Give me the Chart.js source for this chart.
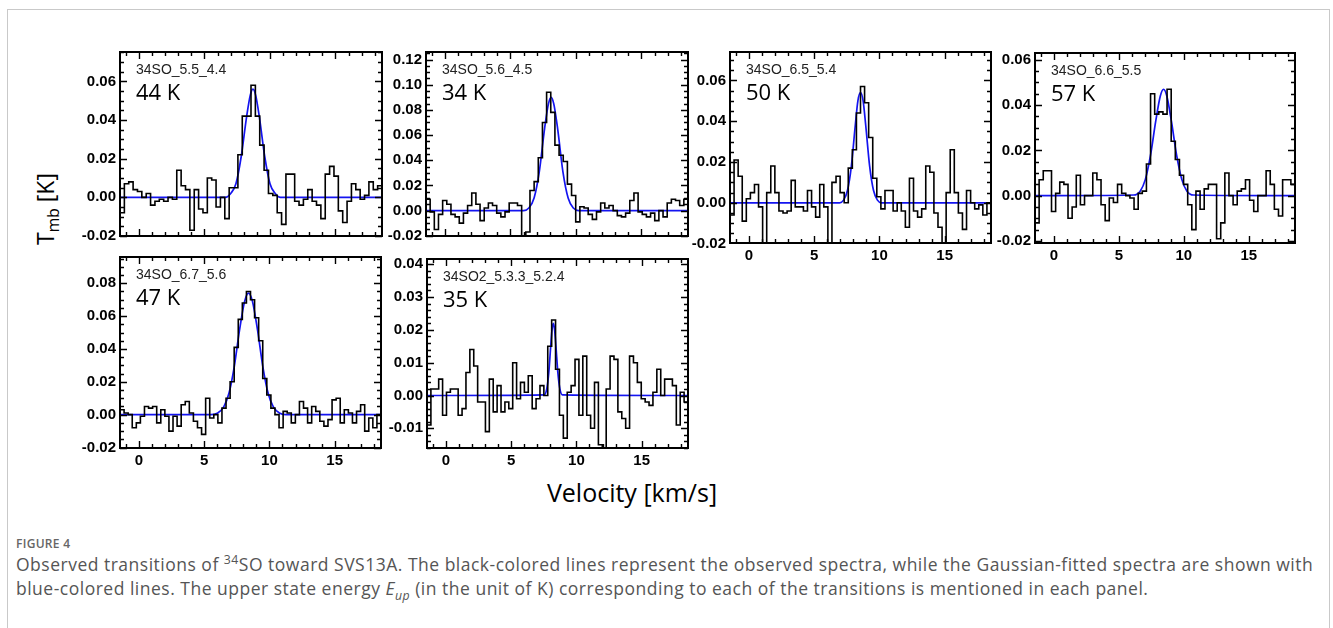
<!DOCTYPE html>
<html>
<head>
<meta charset="utf-8">
<title>34SO transitions toward SVS13A</title>
<script src="https://cdn.jsdelivr.net/npm/chart.js@4.4.1/dist/chart.umd.min.js"></script>
<style>
  html, body { margin: 0; padding: 0; background: #fff; }
  #fig { position: relative; width: 1333px; height: 628px; overflow: hidden; }
  #frame { position: absolute; left: 7px; top: 9px; width: 1321px; height: 660px; border: 1px solid #c9c9c9; }
  canvas { position: absolute; }
  #ylab { position: absolute; left: 45px; top: 209px; transform: translate(-50%, -50%) rotate(-90deg);
          font: 23px "Open Sans"; color: #000; white-space: nowrap; }
  #ylab sub { font-size: 0.68em; vertical-align: -0.3em; line-height: 0; }
  #xlab { position: absolute; left: 632px; top: 492px; transform: translate(-50%, -50%);
          font: 25px "Open Sans"; color: #000; white-space: nowrap; }
  #figlabel { position: absolute; left: 16px; top: 535px; font: 600 12px "Open Sans"; color: #666; letter-spacing: 0.3px; }
  #caption { position: absolute; left: 16px; top: 552px; font: 17.5px "Open Sans"; color: #555; line-height: 24px;
             letter-spacing: 0.5px; white-space: nowrap; }
  #caption sup, #caption sub { font-size: 0.7em; line-height: 0; }
</style>
</head>
<body>
<div id="fig">
  <div id="frame"></div>
  <div id="ylab">T<sub>mb</sub> [K]</div>
  <div id="xlab">Velocity [km/s]</div>
  <div id="figlabel">FIGURE 4</div>
  <div id="caption">Observed transitions of <sup>34</sup>SO toward SVS13A. The black-colored lines represent the observed spectra, while the Gaussian-fitted spectra are shown with<br>blue-colored lines. The upper state energy <i>E<sub>up</sub></i> (in the unit of K) corresponding to each of the transitions is mentioned in each panel.</div>
</div>
<script>
// velocity axis shared by all panels (km/s)
const velMin = -1.45;
const velMax = 18.55;
const xTickValues = [0, 5, 10, 15];

const names = ["34SO_5.5_4.4", "34SO_5.6_4.5", "34SO_6.5_5.4", "34SO_6.6_5.5", "34SO_6.7_5.6", "34SO2_5.3.3_5.2.4"];
const eup = ["44 K", "34 K", "50 K", "57 K", "47 K", "35 K"];

const yTicks1 = [-0.02, 0, 0.02, 0.04, 0.06];
const yTicks2 = [-0.02, 0, 0.02, 0.04, 0.06, 0.08, 0.10, 0.12];
const yTicks3 = [-0.02, 0, 0.02, 0.04, 0.06];
const yTicks4 = [-0.02, 0, 0.02, 0.04, 0.06];
const yTicks5 = [-0.02, 0, 0.02, 0.04, 0.06, 0.08];
const yTicks6 = [-0.01, 0, 0.01, 0.02, 0.03, 0.04];

// observed spectra, Tmb [K] per channel (evenly spaced from velMin to velMax)
const spec1 = [-0.008, 0.007, 0.008, 0.004, 0.003, 0.000, 0.002, -0.004, -0.002, -0.001,
  -0.002, 0.000, -0.001, 0.014, 0.006, 0.004, -0.017, 0.004, -0.006, -0.008,
  0.010, 0.009, -0.005, 0.000, -0.011, 0.005, 0.005, 0.022, 0.042, 0.042,
  0.058, 0.042, 0.027, 0.014, 0.002, 0.001, -0.008, -0.014, 0.012, 0.012,
  -0.002, -0.004, -0.001, 0.004, -0.002, -0.004, -0.011, 0.012, 0.016, 0.011,
  -0.007, -0.013, -0.002, 0.007, 0.004, -0.001, 0.001, 0.008, 0.004, 0.006];
const spec2 = [0.009, -0.001, -0.015, -0.003, 0.008, 0.005, -0.003, -0.005, -0.010, -0.002,
  0.004, 0.014, 0.005, -0.008, 0.002, 0.006, 0.004, -0.002, -0.005, -0.001,
  0.006, 0.006, 0.004, -0.022, -0.017, 0.016, 0.023, 0.042, 0.070, 0.094,
  0.078, 0.052, 0.044, 0.039, 0.021, 0.012, -0.009, 0.003, 0.002, -0.003,
  -0.007, -0.001, 0.006, 0.002, 0.004, 0.000, -0.004, -0.005, -0.002, 0.008,
  0.014, -0.001, -0.003, -0.005, -0.002, -0.008, 0.000, -0.005, 0.006, 0.009,
  0.008, 0.004, 0.009];
const spec3 = [-0.006, 0.021, 0.013, -0.009, 0.002, 0.005, 0.009, -0.002, -0.022, 0.005,
  0.018, 0.005, -0.004, -0.005, -0.004, 0.011, -0.002, -0.002, -0.004, 0.006,
  -0.002, -0.007, 0.009, -0.002, -0.022, 0.010, 0.013, 0.005, 0.000, 0.017,
  0.026, 0.044, 0.057, 0.049, 0.032, 0.012, 0.003, -0.003, 0.006, 0.006,
  -0.004, 0.000, -0.004, -0.012, 0.012, -0.004, -0.007, -0.003, 0.018, 0.015,
  -0.005, -0.012, -0.022, 0.005, 0.026, 0.005, -0.005, -0.013, 0.006, 0.000,
  -0.003, -0.001, -0.006, 0.000];
const spec4 = [-0.012, 0.007, 0.011, 0.011, -0.007, 0.001, 0.006, 0.005, -0.010, -0.005,
  0.009, -0.004, 0.000, 0.000, 0.010, 0.007, -0.004, -0.011, -0.001, -0.003,
  0.005, 0.001, 0.000, -0.001, -0.006, 0.001, 0.002, 0.014, 0.045, 0.036,
  0.037, 0.036, 0.047, 0.024, 0.016, 0.009, 0.005, -0.004, -0.015, 0.002,
  -0.006, 0.003, 0.005, 0.005, -0.019, -0.012, 0.010, 0.000, -0.004, 0.002,
  0.003, 0.007, -0.002, -0.007, 0.000, 0.000, 0.011, 0.005, -0.006, -0.009,
  0.007, 0.007, 0.005];
const spec5 = [0.003, 0.001, 0.000, -0.008, -0.005, -0.001, 0.005, 0.004, 0.005, -0.005,
  0.003, -0.001, -0.010, -0.001, -0.007, 0.006, 0.008, 0.001, -0.004, -0.008,
  -0.012, 0.010, -0.002, 0.000, -0.005, 0.004, 0.010, 0.020, 0.041, 0.058,
  0.068, 0.075, 0.070, 0.059, 0.045, 0.022, 0.012, 0.004, 0.000, -0.008,
  0.002, 0.001, -0.005, 0.000, 0.008, 0.004, -0.005, 0.005, 0.002, -0.004,
  -0.007, -0.003, 0.009, 0.010, -0.005, 0.003, 0.001, -0.005, 0.002, 0.006,
  -0.010, -0.002, -0.008, 0.000];
const spec6 = [-0.009, 0.002, 0.002, 0.005, -0.006, 0.001, 0.002, 0.002, -0.006, -0.004,
  0.007, 0.014, 0.009, -0.002, -0.002, -0.011, 0.005, -0.005, 0.003, -0.005,
  -0.002, -0.004, 0.010, -0.001, 0.004, 0.001, 0.006, -0.004, -0.001, 0.003,
  0.000, 0.015, 0.023, 0.008, -0.006, -0.013, 0.001, 0.003, 0.011, -0.006,
  0.012, -0.006, -0.010, 0.004, -0.015, -0.016, 0.002, 0.012, 0.011, -0.005,
  -0.007, -0.010, 0.012, 0.010, 0.004, -0.001, -0.002, -0.003, 0.001, 0.008,
  0.000, 0.005, 0.005, 0.003, -0.009, 0.001, -0.002];

// Gaussian fits
const fitV1 = [-1.45, 6.6, 7.0, 7.4, 7.8, 8.2, 8.5, 8.7, 8.9, 9.2, 9.6, 10.0, 10.4, 10.8, 18.55];
const fitT1 = [0, 0, 0.002, 0.007, 0.021, 0.041, 0.053, 0.056, 0.053, 0.041, 0.021, 0.007, 0.002, 0, 0];
const fitV2 = [-1.45, 6.0, 6.4, 6.8, 7.2, 7.6, 7.9, 8.1, 8.3, 8.6, 9.0, 9.4, 9.8, 10.2, 18.55];
const fitT2 = [0, 0, 0.002, 0.010, 0.031, 0.065, 0.085, 0.090, 0.085, 0.065, 0.031, 0.010, 0.002, 0, 0];
const fitV3 = [-1.45, 6.95, 7.25, 7.55, 7.85, 8.15, 8.35, 8.55, 8.75, 8.95, 9.25, 9.55, 9.85, 10.15, 18.55];
const fitT3 = [0, 0, 0.0013, 0.006, 0.018, 0.038, 0.050, 0.054, 0.050, 0.038, 0.018, 0.006, 0.0013, 0, 0];
const fitV4 = [-1.45, 6.14, 6.64, 7.04, 7.44, 7.84, 8.19, 8.44, 8.69, 9.04, 9.44, 9.84, 10.24, 10.74, 18.55];
const fitT4 = [0, 0.0003, 0.002, 0.0072, 0.018, 0.033, 0.044, 0.047, 0.044, 0.033, 0.018, 0.0072, 0.002, 0.0003, 0];
const fitV5 = [-1.45, 5.5, 6.0, 6.5, 6.9, 7.3, 7.7, 8.1, 8.4, 8.7, 9.1, 9.5, 9.9, 10.3, 10.8, 11.3, 18.55];
const fitT5 = [0, 0, 0.0009, 0.0047, 0.013, 0.029, 0.051, 0.069, 0.074, 0.069, 0.051, 0.029, 0.013, 0.0047, 0.0009, 0, 0];
const fitV6 = [-1.45, 7.53, 7.73, 7.88, 8.03, 8.13, 8.23, 8.33, 8.43, 8.58, 8.73, 8.93, 18.55];
const fitT6 = [0, 0.0002, 0.0021, 0.0069, 0.015, 0.020, 0.022, 0.020, 0.015, 0.0069, 0.0021, 0.0002, 0];

// panel frames on the page (px) and y ranges
const panels = [
  { left: 120, top: 45, w: 262, h: 198, yMin: -0.0200, yMax: 0.0752, yMinor: 0.005, yTicks: yTicks1, xLabels: false, spec: spec1, fitV: fitV1, fitT: fitT1 },
  { left: 426, top: 45, w: 262, h: 198, yMin: -0.0202, yMax: 0.1260, yMinor: 0.005, yTicks: yTicks2, xLabels: false, spec: spec2, fitV: fitV2, fitT: fitT2 },
  { left: 730, top: 45, w: 261, h: 198, yMin: -0.0197, yMax: 0.0739, yMinor: 0.005, yTicks: yTicks3, xLabels: true, spec: spec3, fitV: fitV3, fitT: fitT3 },
  { left: 1035, top: 46, w: 260, h: 197, yMin: -0.0209, yMax: 0.0630, yMinor: 0.005, yTicks: yTicks4, xLabels: true, spec: spec4, fitV: fitV4, fitT: fitT4 },
  { left: 120, top: 250, w: 261, h: 198, yMin: -0.0203, yMax: 0.0960, yMinor: 0.005, yTicks: yTicks5, xLabels: true, spec: spec5, fitV: fitV5, fitT: fitT5 },
  { left: 427, top: 252, w: 261, h: 196, yMin: -0.0160, yMax: 0.0416, yMinor: 0.002, yTicks: yTicks6, xLabels: true, spec: spec6, fitV: fitV6, fitT: fitT6 },
];

const Y_AXIS_W = 52;
const PAD = 6;
const X_AXIS_H = 30;

Chart.defaults.font.family = "'Liberation Sans', Arial, sans-serif";
Chart.defaults.color = "#000";

// histogram points: left edge of every channel plus the right edge
function steps(vals) {
  const dv = (velMax - velMin) / vals.length;
  const pts = vals.map((t, i) => ({ x: velMin + i * dv, y: t }));
  pts.push({ x: velMax, y: vals[vals.length - 1] });
  return pts;
}

// IDL-style frame: box with inward ticks on all four sides, plus panel labels
const frameTicks = {
  id: "frameTicks",
  afterDatasetsDraw(chart, args, opts) {
    const { ctx, chartArea: a, scales: { x, y } } = chart;
    ctx.save();
    ctx.strokeStyle = "#000";
    ctx.lineWidth = 1.4;
    ctx.beginPath();
    for (let v = Math.ceil(x.min); v <= x.max; v++) {
      const px = Math.round(x.getPixelForValue(v)) + 0.5;
      const len = v % 5 === 0 ? 7 : 4;
      ctx.moveTo(px, a.bottom); ctx.lineTo(px, a.bottom - len);
      ctx.moveTo(px, a.top); ctx.lineTo(px, a.top + len);
    }
    const k0 = Math.ceil(y.min / opts.yMinor - 1e-6);
    for (let k = k0; k * opts.yMinor <= y.max + 1e-9; k++) {
      const v = k * opts.yMinor;
      const py = Math.round(y.getPixelForValue(v)) + 0.5;
      const major = opts.yTicks.some(t => Math.abs(t - v) < 1e-9);
      const len = major ? 7 : 4;
      ctx.moveTo(a.left, py); ctx.lineTo(a.left + len, py);
      ctx.moveTo(a.right, py); ctx.lineTo(a.right - len, py);
    }
    ctx.stroke();
    ctx.lineWidth = 2;
    ctx.strokeRect(a.left, a.top, a.right - a.left, a.bottom - a.top);

    ctx.fillStyle = "#222";
    ctx.textBaseline = "alphabetic";
    ctx.font = "14px 'Liberation Sans'";
    ctx.fillText(opts.name, a.left + 16, a.top + 22);
    ctx.fillStyle = "#000";
    ctx.font = "22px 'Open Sans'";
    ctx.fillText(opts.temp, a.left + 16, a.top + 48);
    ctx.restore();
  }
};

const fig = document.getElementById("fig");

panels.forEach((p, k) => {
  const bottom = p.xLabels ? X_AXIS_H : PAD;
  const canvas = document.createElement("canvas");
  canvas.width = p.w + Y_AXIS_W + PAD;
  canvas.height = p.h + PAD + bottom;
  canvas.style.left = (p.left - Y_AXIS_W) + "px";
  canvas.style.top = (p.top - PAD) + "px";
  fig.appendChild(canvas);

  new Chart(canvas.getContext("2d"), {
    type: "line",
    data: {
      datasets: [{
        label: "observed",
        data: steps(p.spec),
        borderColor: "#000",
        borderWidth: 1.6,
        stepped: true,
        pointRadius: 0,
        fill: false,
      }, {
        label: "Gaussian fit",
        data: p.fitV.map((v, i) => ({ x: v, y: p.fitT[i] })),
        borderColor: "rgb(20, 20, 240)",
        borderWidth: 1.7,
        cubicInterpolationMode: "monotone",
        pointRadius: 0,
        fill: false,
      }]
    },
    options: {
      responsive: false,
      animation: false,
      devicePixelRatio: 1,
      layout: { padding: { top: PAD, right: PAD, left: 0, bottom: 0 } },
      plugins: {
        legend: { display: false },
        tooltip: { enabled: false },
        frameTicks: { name: names[k], temp: eup[k], yMinor: p.yMinor, yTicks: p.yTicks },
      },
      scales: {
        x: {
          type: "linear",
          min: velMin,
          max: velMax,
          grid: { display: false, drawTicks: false },
          border: { display: false },
          ticks: { display: p.xLabels, padding: 4, font: { size: 15, weight: "bold" } },
          afterBuildTicks: s => { s.ticks = xTickValues.map(v => ({ value: v })); },
          afterFit: s => { s.height = bottom; },
        },
        y: {
          type: "linear",
          min: p.yMin,
          max: p.yMax,
          grid: { display: false, drawTicks: false },
          border: { display: false },
          ticks: {
            padding: 4,
            font: { size: 15, weight: "bold" },
            callback: v => (Math.abs(v) < 1e-9 ? 0 : v).toFixed(2),
          },
          afterBuildTicks: s => { s.ticks = p.yTicks.map(v => ({ value: v })); },
          afterFit: s => { s.width = Y_AXIS_W; },
        }
      }
    },
    plugins: [frameTicks]
  });
});
</script>
</body>
</html>
